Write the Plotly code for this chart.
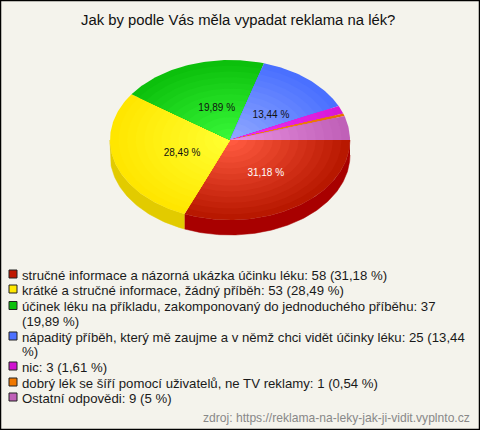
import math
import plotly.graph_objects as go

# ---- data ----
title_text = "Jak by podle Vás měla vypadat reklama na lék?"
categories = ["stručné informace a názorná ukázka účinku léku",
              "krátké a stručné informace, žádný příběh",
              "účinek léku na příkladu, zakomponovaný do jednoduchého příběhu",
              "nápaditý příběh, který mě zaujme a v němž chci vidět účinky léku",
              "nic",
              "dobrý lék se šíří pomocí uživatelů, ne TV reklamy",
              "Ostatní odpovědi"]
counts = [58, 53, 37, 25, 3, 1, 9]
percent_labels = ["31,18 %", "28,49 %", "19,89 %", "13,44 %", "1,61 %", "0,54 %", "5 %"]
show_on_pie = [True, True, True, True, False, False, False]
label_colors = ["#ffffff", "#111111", "#111111", "#111111", "#111111", "#111111", "#111111"]
rim_colors = ["#b81800", "#ffe600", "#0cc00c", "#4a70ff", "#d818d8", "#e87000", "#c060b8"]
center_colors = ["#ff5a40", "#ffff30", "#38f838", "#90a8ff", "#f030f0", "#f89020", "#e890e0"]
side_colors = ["#a80000", "#e2cb00", "#0a9a0a", "#3a58cc", "#a810a8", "#b85800", "#984c90"]
legend_colors = ["#c01800", "#ffe800", "#0cc00c", "#4c70ff", "#d010d0", "#f07800", "#c060b8"]
legend_lines = [
    (0, "stručné informace a názorná ukázka účinku léku: 58 (31,18 %)"),
    (1, "krátké a stručné informace, žádný příběh: 53 (28,49 %)"),
    (2, "účinek léku na příkladu, zakomponovaný do jednoduchého příběhu: 37"),
    (None, "(19,89 %)"),
    (3, "nápaditý příběh, který mě zaujme a v němž chci vidět účinky léku: 25 (13,44"),
    (None, "%)"),
    (4, "nic: 3 (1,61 %)"),
    (5, "dobrý lék se šíří pomocí uživatelů, ne TV reklamy: 1 (0,54 %)"),
    (6, "Ostatní odpovědi: 9 (5 %)"),
]
source_text = "zdroj: https://reklama-na-leky-jak-ji-vidit.vyplnto.cz"

# ---- geometry ----
W, H = 480, 430
CX, CY, RX, RY, DEPTH = 230, 140, 120, 80, 15
LABEL_DX, LABEL_DY = 5, 3
LAYERS = 14
BG = "#f4f3ec"


def lerp_hex(a, b, t):
    ca = [int(a[i:i + 2], 16) for i in (1, 3, 5)]
    cb = [int(b[i:i + 2], 16) for i in (1, 3, 5)]
    return "#%02x%02x%02x" % tuple(round(x + (y - x) * t) for x, y in zip(ca, cb))


def arc(a0, a1, scale=1.0, dy=0.0):
    n = max(2, int(abs(a1 - a0) * 60))
    pts = [a0 + (a1 - a0) * i / n for i in range(n + 1)]
    return ([CX + RX * scale * math.cos(p) for p in pts],
            [CY + dy + RY * scale * math.sin(p) for p in pts])


total = sum(counts)
edges = [0.0]
for c in counts:
    edges.append(edges[-1] + c / total * 2 * math.pi)

fig = go.Figure()

# side wall
for i, c in enumerate(counts):
    a0, a1 = edges[i], min(edges[i + 1], math.pi)
    if a1 <= a0:
        continue
    xt, yt = arc(a0, a1)
    xb, yb = arc(a1, a0, dy=DEPTH)
    fig.add_trace(go.Scatter(x=xt + xb, y=yt + yb, mode="lines", fill="toself",
                             fillcolor=side_colors[i], line=dict(width=0.5, color=side_colors[i]),
                             hoverinfo="skip", showlegend=False))

# top face: radial gradient painted from rim to centre
for i, c in enumerate(counts):
    for k in range(LAYERS):
        t = k / (LAYERS - 1)
        scale = 1 - k / LAYERS
        x, y = arc(edges[i], edges[i + 1], scale)
        col = lerp_hex(rim_colors[i], center_colors[i], t)
        fig.add_trace(go.Scatter(x=[CX] + x + [CX], y=[CY] + y + [CY], mode="lines", fill="toself",
                                 fillcolor=col, line=dict(width=0, color=col),
                                 hoverinfo="skip", showlegend=False))

# percentage labels
for i, c in enumerate(counts):
    if show_on_pie[i]:
        mid = (edges[i] + edges[i + 1]) / 2
        fig.add_trace(go.Scatter(x=[CX + LABEL_DX + RX * 0.46 * math.cos(mid)],
                                 y=[CY + LABEL_DY + RY * 0.46 * math.sin(mid)],
                                 mode="text", text=[percent_labels[i]],
                                 textfont=dict(family="Liberation Sans", size=10, color=label_colors[i]),
                                 textposition="middle center", hoverinfo="skip", showlegend=False))

# legend
row_y = [275, 290, 306.5, 321, 337, 351, 367, 383, 398]
annots = []
for (idx, line), y in zip(legend_lines, row_y):
    annots.append(dict(x=20, y=y, xref="x", yref="y", text=line, showarrow=False, xanchor="left",
                       yanchor="middle", font=dict(family="Liberation Sans", size=13.2, color="#1a1a1a")))
    if idx is not None:
        fig.add_trace(go.Scatter(x=[13], y=[y - 1], mode="markers",
                                 marker=dict(symbol="square", size=8, color=legend_colors[idx],
                                             line=dict(width=1, color="#222222")),
                                 hoverinfo="skip", showlegend=False))
annots.append(dict(x=238, y=20, xref="x", yref="y", text=title_text, showarrow=False, xanchor="center",
                   yanchor="middle", font=dict(family="Liberation Sans", size=14.85, color="#111111")))
annots.append(dict(x=472, y=417.5, xref="x", yref="y", text=source_text, showarrow=False, xanchor="right",
                   yanchor="middle", font=dict(family="Liberation Sans", size=12.1, color="#888888")))

fig.update_layout(
    width=W, height=H, margin=dict(l=0, r=0, t=0, b=0), autosize=False,
    paper_bgcolor=BG, plot_bgcolor=BG, annotations=annots,
    xaxis=dict(range=[0, W], visible=False, fixedrange=True),
    yaxis=dict(range=[H, 0], visible=False, fixedrange=True),
    shapes=[dict(type="rect", x0=0.5, y0=0.5, x1=W - 0.5, y1=H - 0.5, xref="x", yref="y",
                 line=dict(color="#000000", width=1.5))],
)
fig.write_html("out.html", config={"displayModeBar": False, "responsive": False},
               post_script="document.body.style.margin='0';document.body.style.overflow='hidden';")
